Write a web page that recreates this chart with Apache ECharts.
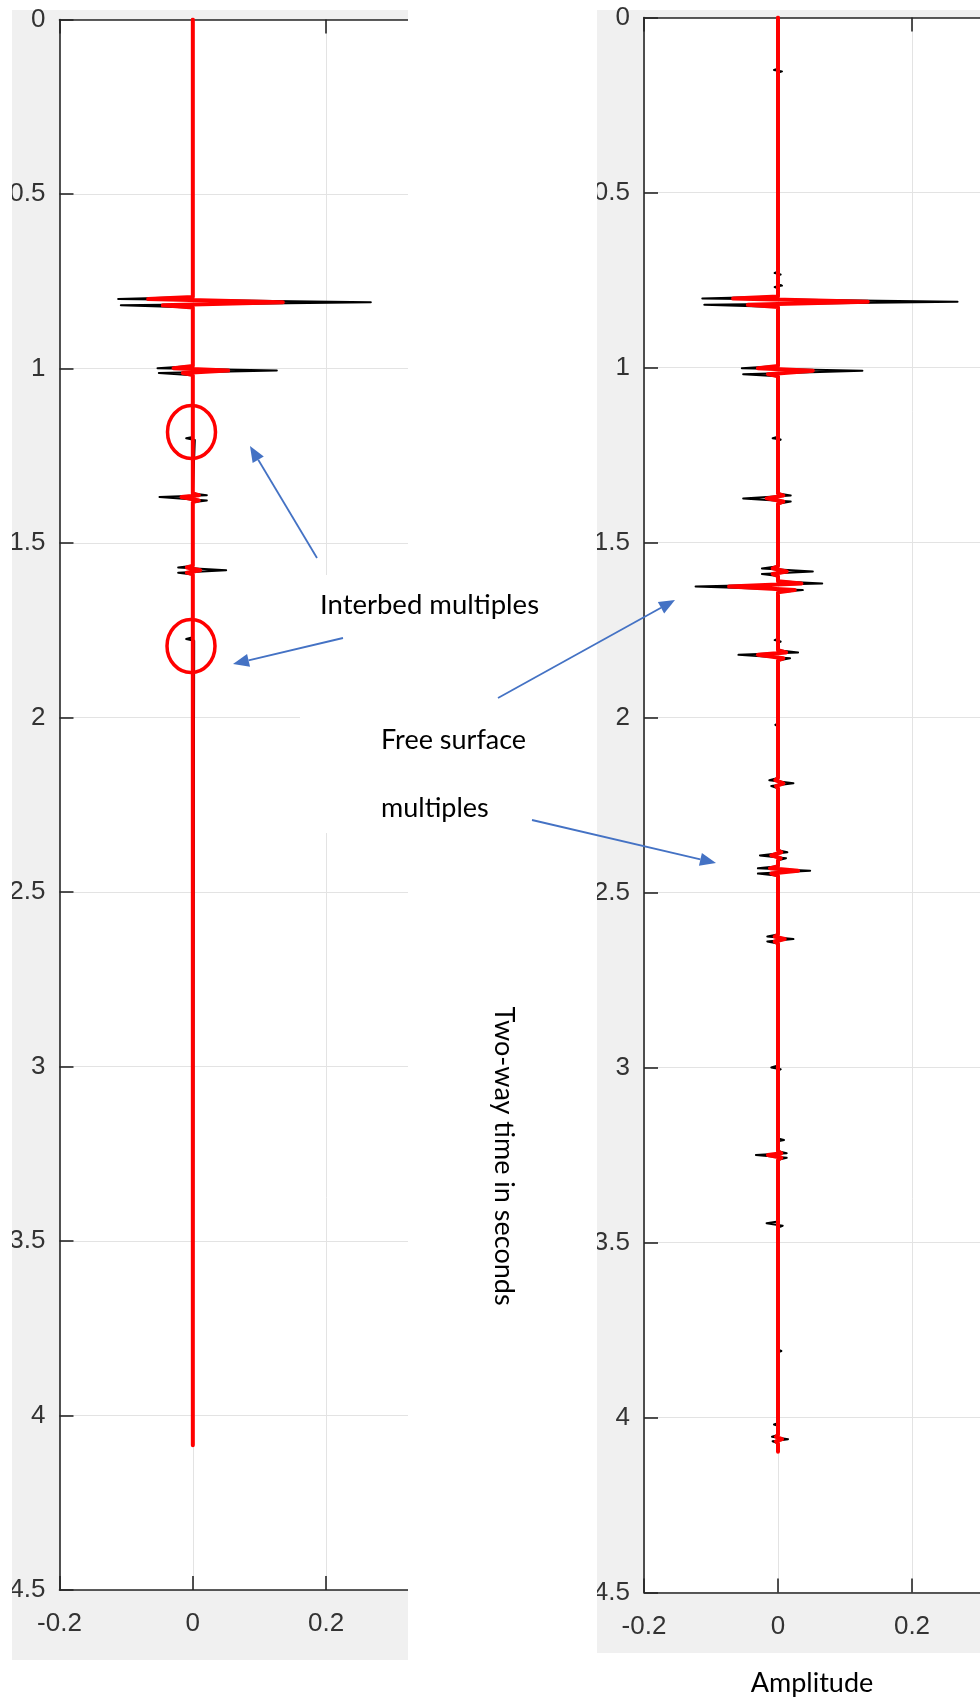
<!DOCTYPE html>
<html>
<head>
<meta charset="utf-8">
<script src="https://cdn.jsdelivr.net/npm/echarts@6/dist/echarts.min.js"></script>
<style>
html,body{margin:0;padding:0;background:#ffffff;}
#c{width:980px;height:1701px;}
</style>
</head>
<body>
<div id="c"></div>
<script>
// ---------- tick labels ----------
const timeTicks = [0, 0.5, 1, 1.5, 2, 2.5, 3, 3.5, 4, 4.5];
const ampTicks = [-0.2, 0, 0.2];
const leftAmpMax = 0.4;     // left panel x-axis end (cropped by the picture)
const rightAmpMax = 0.3015; // right panel x-axis end (cropped at the picture edge)

// ---------- left panel (primaries + interbed multiples) ----------
const leftT = [
  0,
  0.795, 0.801, 0.810, 0.819, 0.825,
  0.993, 0.999, 1.006, 1.013, 1.019,
  1.196, 1.200, 1.205, 1.210,
  1.358, 1.363, 1.368, 1.378, 1.383,
  1.565, 1.570, 1.578, 1.585, 1.590,
  1.770, 1.775, 1.780, 1.785,
  4.085
];
const leftBlack = [
  0,
  0, -0.112, 0.267, -0.108, 0,
  0, -0.053, 0.126, -0.051, 0,
  0, -0.010, 0.003, 0,
  0, 0.021, -0.050, 0.021, 0,
  0, -0.022, 0.050, -0.022, 0,
  0, -0.010, 0.002, 0,
  0
];
const leftRed = [
  0,
  0, -0.067, 0.135, -0.045, 0,
  0, -0.029, 0.053, -0.015, 0,
  0, 0, 0, 0,
  0, 0.009, -0.017, 0.009, 0,
  0, -0.009, 0.011, -0.009, 0,
  0, 0, 0, 0,
  0
];

// ---------- right panel (with free surface multiples) ----------
const rightT = [
  0,
  0.146, 0.150, 0.154, 0.158,
  0.726, 0.730, 0.734, 0.738,
  0.762, 0.766, 0.770, 0.774,
  0.797, 0.803, 0.812, 0.821, 0.827,
  0.996, 1.002, 1.009, 1.019, 1.025,
  1.198, 1.202, 1.206, 1.210,
  1.360, 1.366, 1.374, 1.383, 1.389,
  1.568, 1.574, 1.583, 1.590, 1.596,
  1.611, 1.617, 1.626, 1.636, 1.642,
  1.775, 1.779, 1.783, 1.787,
  1.808, 1.814, 1.821, 1.831, 1.837,
  2.017, 2.021, 2.025,
  2.173, 2.179, 2.188, 2.196, 2.202,
  2.379, 2.385, 2.394, 2.402, 2.408,
  2.425, 2.431, 2.438, 2.446, 2.452,
  2.620, 2.626, 2.633, 2.640, 2.646,
  2.994, 3.000, 3.005, 3.010,
  3.203, 3.207, 3.211,
  3.239, 3.245, 3.250, 3.258, 3.264,
  3.440, 3.445, 3.452, 3.457,
  3.806, 3.810, 3.814,
  4.016, 4.020, 4.024,
  4.050, 4.055, 4.062, 4.068, 4.074,
  4.098
];
const rightBlack = [
  0,
  0, -0.006, 0.006, 0,
  0, -0.005, 0.004, 0,
  0, 0.006, -0.005, 0,
  0, -0.113, 0.268, -0.110, 0,
  0, -0.054, 0.126, -0.052, 0,
  0, -0.008, 0.004, 0,
  0, 0.019, -0.052, 0.019, 0,
  0, -0.024, 0.052, -0.024, 0,
  0, 0.066, -0.123, 0.037, 0,
  0, -0.005, 0.004, 0,
  0, 0.030, -0.059, 0.018, 0,
  0, -0.004, 0,
  0, -0.013, 0.023, -0.010, 0,
  0, 0.014, -0.027, 0.012, 0,
  0, -0.030, 0.048, -0.030, 0,
  0, -0.016, 0.023, -0.016, 0,
  0, -0.010, 0.004, 0,
  0, 0.009, 0,
  0, 0.013, -0.033, 0.013, 0,
  0, -0.017, 0.007, 0,
  0, 0.005, 0,
  0, -0.006, 0,
  0, -0.009, 0.015, -0.008, 0,
  0
];
const rightRed = [
  0,
  0, 0, 0, 0,
  0, 0, 0, 0,
  0, 0, 0, 0,
  0, -0.067, 0.134, -0.045, 0,
  0, -0.030, 0.052, -0.015, 0,
  0, 0, 0, 0,
  0, 0.008, -0.017, 0.008, 0,
  0, -0.008, 0.013, -0.008, 0,
  0, 0.035, -0.073, 0.025, 0,
  0, 0, 0, 0,
  0, 0.012, -0.030, 0.008, 0,
  0, 0, 0,
  0, -0.004, 0.008, -0.003, 0,
  0, 0.005, -0.010, 0.004, 0,
  0, -0.012, 0.030, -0.010, 0,
  0, -0.005, 0.010, -0.005, 0,
  0, 0, 0, 0,
  0, 0, 0,
  0, 0.005, -0.015, 0.005, 0,
  0, 0, 0, 0,
  0, 0, 0,
  0, 0, 0,
  0, -0.003, 0.006, -0.003, 0,
  0
];

// ---------- annotation texts ----------
const labelInterbed = 'Interbed multiples';
const labelFree1 = 'Free surface';
const labelFree2 = 'multiples';
const labelTime = 'Two-way time in seconds';
const labelAmp = 'Amplitude';

// ---------- helpers ----------
const zip = (amps, times) => amps.map((a, i) => [a, times[i]]);
const AX = '#262626';
const GRIDC = '#e3e3e3';
const TICKFONT = 'Liberation Sans';
const NOTEFONT = 'Lato';
const isTick = v => ampTicks.some(t => Math.abs(t - v) < 1e-6);

function yAxisOpt(gi) {
  return {
    type: 'value', gridIndex: gi, inverse: true,
    min: timeTicks[0], max: timeTicks[timeTicks.length - 1], interval: 0.5,
    axisLine: { show: true, onZero: false, lineStyle: { color: AX, width: 1.6 } },
    axisTick: { show: true, inside: true, length: 14, lineStyle: { color: AX, width: 1.6 } },
    axisLabel: { color: '#333', fontFamily: TICKFONT, fontSize: 26, margin: 14 },
    splitLine: { show: true, lineStyle: { color: GRIDC, width: 1 } }
  };
}
function xAxisOpt(gi, pos, maxV) {
  const top = pos === 'top';
  return {
    type: 'value', gridIndex: gi, position: pos,
    min: ampTicks[0], max: maxV, interval: 0.2,
    axisLine: { show: true, onZero: false, lineStyle: { color: AX, width: 1.6 } },
    axisTick: { show: true, inside: true, length: 14, customValues: ampTicks, lineStyle: { color: AX, width: 1.6 } },
    axisLabel: { show: !top, customValues: ampTicks, color: '#333', fontFamily: TICKFONT, fontSize: 26, margin: 21,
      formatter: v => isTick(v) ? String(Math.round(v * 10) / 10) : '' },
    splitLine: { show: !top, lineStyle: { color: GRIDC, width: 1 } }
  };
}
function arrow(sx, sy, tx, ty) {
  const dx = tx - sx, dy = ty - sy, len = Math.hypot(dx, dy);
  const ux = dx / len, uy = dy / len, px = -uy, py = ux;
  const L = 16, W = 6.5;
  const bx = tx - ux * L, by = ty - uy * L;
  const col = '#4472c4';
  return [
    { type: 'line', z: 60, shape: { x1: sx, y1: sy, x2: bx, y2: by }, style: { stroke: col, lineWidth: 1.8 } },
    { type: 'polygon', z: 60, shape: { points: [[tx, ty], [bx + px * W, by + py * W], [bx - px * W, by - py * W]] }, style: { fill: col } }
  ];
}

const chart = echarts.init(document.getElementById('c'), null, { renderer: 'canvas' });

const graphics = [
  // MATLAB figure panels (grey)
  { type: 'rect', z: -10, shape: { x: 12, y: 10, width: 396, height: 1650 }, style: { fill: '#f0f0f0' } },
  { type: 'rect', z: -10, shape: { x: 597, y: 10, width: 383, height: 1643 }, style: { fill: '#f0f0f0' } },
  // cropped areas (white)
  { type: 'rect', z: 50, shape: { x: 0, y: 0, width: 12, height: 1701 }, style: { fill: '#ffffff' } },
  { type: 'rect', z: 50, shape: { x: 408, y: 0, width: 189, height: 1701 }, style: { fill: '#ffffff' } },
  { type: 'rect', z: 50, shape: { x: 300, y: 575, width: 108, height: 258 }, style: { fill: '#ffffff' } },
  // red circles
  { type: 'ellipse', z: 60, shape: { cx: 191.5, cy: 432, rx: 24, ry: 26.5 }, style: { fill: 'none', stroke: '#ff0000', lineWidth: 3.5 } },
  { type: 'ellipse', z: 60, shape: { cx: 191, cy: 646, rx: 24, ry: 26.5 }, style: { fill: 'none', stroke: '#ff0000', lineWidth: 3.5 } },
  // texts
  { type: 'text', z: 60, x: 320, y: 605, style: { text: labelInterbed, font: '27.5px ' + NOTEFONT, fill: '#000', align: 'left', verticalAlign: 'middle' } },
  { type: 'text', z: 60, x: 381, y: 740, style: { text: labelFree1, font: '27px ' + NOTEFONT, fill: '#000', align: 'left', verticalAlign: 'middle' } },
  { type: 'text', z: 60, x: 381, y: 808, style: { text: labelFree2, font: '27px ' + NOTEFONT, fill: '#000', align: 'left', verticalAlign: 'middle' } },
  { type: 'text', z: 60, x: 504, y: 1156, rotation: -Math.PI / 2, style: { text: labelTime, font: '27px ' + NOTEFONT, fill: '#000', align: 'center', verticalAlign: 'middle' } },
  { type: 'text', z: 60, x: 812, y: 1683, style: { text: labelAmp, font: '27px ' + NOTEFONT, fill: '#000', align: 'center', verticalAlign: 'middle' } }
]
  .concat(arrow(317, 558, 250, 446))
  .concat(arrow(343, 638, 233, 664))
  .concat(arrow(498, 698, 675, 600))
  .concat(arrow(532, 820, 716, 863));

function traceSeries(data, xi, yi, color, w, z) {
  return {
    type: 'line', xAxisIndex: xi, yAxisIndex: yi, data: data,
    symbol: 'none', showSymbol: false, silent: true, z: z,
    lineStyle: { color: color, width: w, join: 'round', cap: 'round' },
    emphasis: { disabled: true }
  };
}

chart.setOption({
  animation: false,
  backgroundColor: '#ffffff',
  grid: [
    { left: 59.5, top: 19.5, width: 400, height: 1570.5, show: true, backgroundColor: '#ffffff', borderWidth: 0, containLabel: false },
    { left: 644, top: 17.5, width: 336, height: 1575, show: true, backgroundColor: '#ffffff', borderWidth: 0, containLabel: false }
  ],
  xAxis: [xAxisOpt(0, 'bottom', leftAmpMax), xAxisOpt(0, 'top', leftAmpMax), xAxisOpt(1, 'bottom', rightAmpMax), xAxisOpt(1, 'top', rightAmpMax)],
  yAxis: [yAxisOpt(0), yAxisOpt(1)],
  series: [
    traceSeries(zip(leftBlack, leftT), 0, 0, '#000000', 2, 2),
    traceSeries(zip(leftRed, leftT), 0, 0, '#ff0000', 4, 3),
    traceSeries(zip(rightBlack, rightT), 2, 1, '#000000', 2, 2),
    traceSeries(zip(rightRed, rightT), 2, 1, '#ff0000', 4, 3)
  ],
  graphic: { elements: graphics }
});
</script>
</body>
</html>
